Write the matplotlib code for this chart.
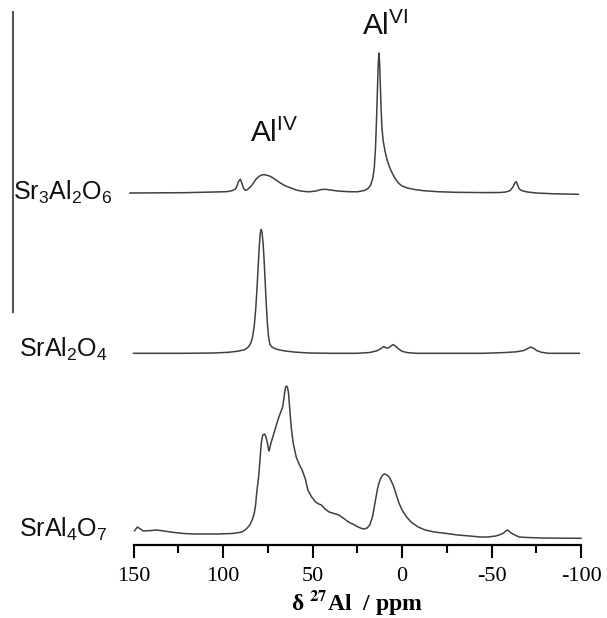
import matplotlib
matplotlib.use("Agg")
import matplotlib.pyplot as plt
from matplotlib.lines import Line2D
import numpy as np

plt.rcParams['mathtext.fontset'] = 'custom'
plt.rcParams['mathtext.rm'] = 'Liberation Sans'
plt.rcParams['mathtext.it'] = 'Liberation Sans:italic'
plt.rcParams['mathtext.bf'] = 'Liberation Sans:bold'

# ---- data (chemical shift ppm, intensity in arbitrary units) ----
sr3_ppm = [152, 122, 98, 95, 93, 92, 91.2, 90.3, 89.5, 88.7, 87.8, 87, 86, 84.5, 83, 81.5,
           80, 78.5, 77, 75.5, 74, 72, 70, 68, 65, 62, 59, 56, 52, 48, 45, 43, 40, 36, 30,
           25, 21, 19, 17.5, 16.3, 15.5, 14.8, 14.2, 13.7, 13.3, 12.9, 12.5, 12.1, 11.7,
           11.2, 10.5, 9.5, 8.3, 7, 5.5, 4, 2, 0, -3, -7, -12, -20, -30, -45, -55, -58,
           -60.5, -62, -63, -63.8, -64.6, -65.5, -67, -70, -75, -85, -98.5]
sr3_int = [0, 0.3, 1.3, 2.3, 4, 8, 12, 13.7, 10, 5.5, 3, 2.7, 4, 6.5, 10, 14,
           16.5, 18, 18.3, 17.8, 17, 15, 12.5, 10, 7, 5, 3, 1.8, 1.2, 2, 3.5, 3.7, 3, 2, 1.3,
           1.2, 2.5, 4.5, 8, 15, 25, 45, 75, 105, 128, 140, 130, 108, 85,
           65, 52, 42, 33, 26, 20, 15, 10, 7, 5, 3.5, 2.3, 1.3, 0.7, 0.4, 0.5, 1,
           2.5, 6, 10, 11.3, 8, 4, 2.3, 1, 0, -0.8, -1.3]

sr1_ppm = [150, 120, 105, 97, 92, 88, 86, 84.5, 83.5, 82.5, 81.7, 81, 80.3, 79.7, 79.2, 78.7,
           78.2, 77.6, 77, 76.4, 75.8, 75.2, 74.6, 73.8, 72.5, 70, 66, 60, 52, 40, 25, 18, 14,
           11.5, 10.3, 9, 7.8, 6, 5, 3.8, 2, 0, -3, -8, -20, -45, -57, -64, -68, -70.5, -72,
           -73.5, -75.5, -78, -82, -99]
sr1_int = [0, 0, 0.3, 1, 2, 3.5, 6, 10, 16, 28, 45, 65, 88, 108, 120, 124,
           121, 110, 92, 70, 48, 30, 17, 9, 6, 4, 2.5, 1.2, 0.3, 0, 0, 0.8, 2.5,
           5, 6.7, 5.5, 5.3, 7.5, 8.7, 7.5, 4.5, 2, 0.7, 0, 0, 0, 0.7, 1.5, 2.8, 5, 6.3,
           5, 2.5, 1, 0, 0]

sr4_ppm = [149.4, 147.8, 144.6, 140, 137, 133, 129.4, 122, 116.5, 110, 103.5, 94.8, 91, 89.4,
           87, 85, 83.5, 82.5, 81.8, 81, 80.1, 79.3, 78.6, 77.8, 76.8, 76, 75.3, 74.6, 74.2,
           73.6, 73.2, 72, 71, 70, 68.8, 67.7, 66.7, 66, 65.6, 65, 64.5, 63.9, 63.4, 62.7,
           61.9, 60.8, 59.1, 57.5, 55.8, 54, 52.6, 50.5, 48.3, 46.5, 45, 43, 40.7, 38, 35.3,
           32.5, 29.9, 27, 24.5, 22.5, 21.2, 19.5, 18, 16.5, 15.5, 14.5, 13.6, 12.5, 11.5,
           10.5, 9.7, 8.5, 7.1, 6, 5, 4, 3, 1.7, 0, -2.6, -5, -9, -13, -18, -25, -31, -38,
           -43.7, -48, -52.4, -55, -56.7, -58, -58.9, -60, -61, -63, -65.4, -70, -78.4, -90,
           -100]
sr4_int = [14.3, 18, 14, 14.5, 15, 14, 13, 11.5, 11, 11, 11, 11.5, 12.5, 13,
           16, 20, 26, 32, 40, 55, 68, 86, 102, 110, 111, 108, 103, 96, 94,
           99, 102, 109, 115, 121, 128, 133, 138, 146, 152, 158, 159, 157, 152, 136,
           118, 102, 88, 81, 75, 66, 55, 48, 43, 41, 40, 36, 33, 31.5, 30,
           26.5, 23, 20.5, 18, 16.5, 16, 17, 20, 28, 38, 48, 57, 64, 68,
           70.5, 71, 70, 68, 64, 60, 55, 49, 42, 35, 28, 23, 18, 15, 13, 11.5, 10, 9,
           8, 8, 9, 10.5, 12, 14, 15, 13.5, 12, 10, 8, 7.5, 7, 6.8,
           6.7]

names = ['Sr$_3$Al$_2$O$_6$', 'SrAl$_2$O$_4$', 'SrAl$_4$O$_7$']
offsets = [352, 191.7, 0]
xticks = [150, 100, 50, 0, -50, -100]
minor_ticks = [125, 75, 25, -25, -75]

W, H = 607, 618
fig = plt.figure(figsize=(W / 100, H / 100), dpi=100)
ax = fig.add_axes([133.5 / W, (H - 545) / H, (581 - 133.5) / W, 545 / H])

col = '#404040'
for p, v, off in zip([sr3_ppm, sr1_ppm, sr4_ppm], [sr3_int, sr1_int, sr4_int], offsets):
    ax.plot(p, np.array(v) + off, color=col, lw=1.1, clip_on=False)

ax.set_xlim(150, -100)
ax.set_ylim(0, 545)
for s in ['top', 'right', 'left']:
    ax.spines[s].set_visible(False)
ax.spines['bottom'].set_linewidth(1.6)
ax.set_yticks([])
ax.set_xticks(xticks)
ax.set_xticks(minor_ticks, minor=True)
ax.set_xticklabels([str(t) for t in xticks], family='Liberation Serif', fontsize=16)
ax.tick_params(axis='x', which='major', length=9.5, width=1.5, direction='out', pad=6)
ax.tick_params(axis='x', which='minor', length=6, width=1.5, direction='out')
ax.set_xlabel(r'δ $\mathbf{^{27}}$Al  / ppm', family='Liberation Serif', fontweight='bold',
              fontsize=17, labelpad=2, math_fontfamily='stix')
ax.patch.set_visible(False)

# compound labels
lab_pos = [(13, 200), (19, 357), (19, 537)]
for name, (x, y) in zip(names, lab_pos):
    fig.text(x / W, 1 - y / H, name, family='Liberation Sans', fontsize=18,
             ha='left', va='baseline', color='#111111')

fig.text(250 / W, 1 - 142 / H, r'Al$^{\mathrm{IV}}$', family='Liberation Sans', fontsize=21.5,
         ha='left', va='baseline', color='#111111')
fig.text(362 / W, 1 - 35 / H, r'Al$^{\mathrm{VI}}$', family='Liberation Sans', fontsize=21.5,
         ha='left', va='baseline', color='#111111')

# vertical frame line at the left
fig.add_artist(Line2D([13 / W, 13 / W], [1 - 12 / H, 1 - 312 / H], color='#555555', lw=1.5))

fig.savefig('out.png', dpi=100)
